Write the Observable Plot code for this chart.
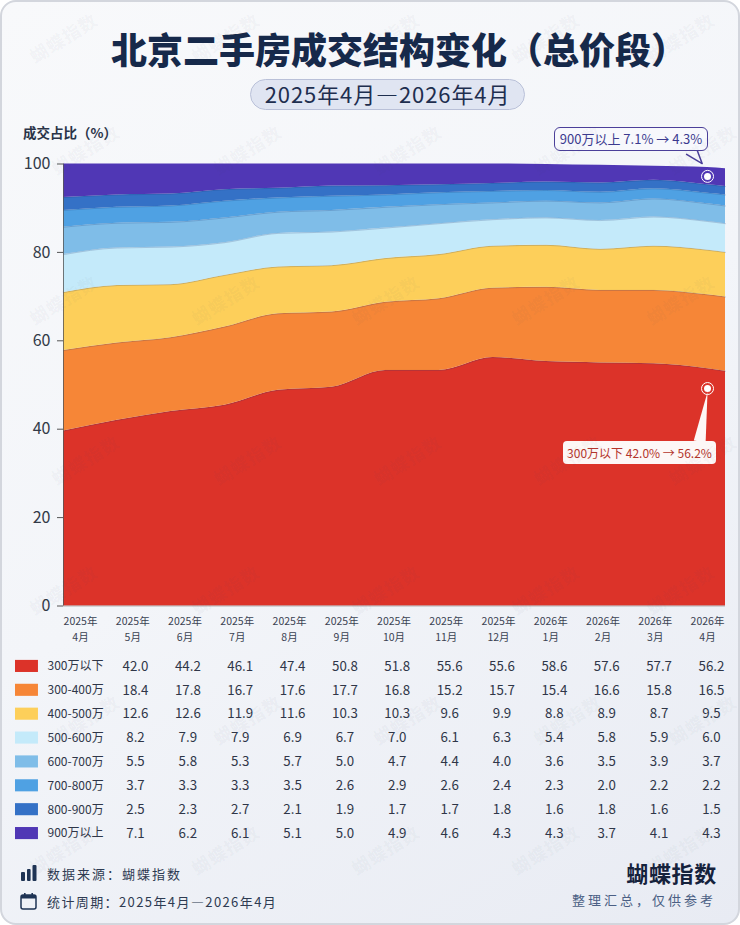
<!DOCTYPE html>
<html lang="zh">
<head>
<meta charset="utf-8">
<script src="https://cdn.jsdelivr.net/npm/d3@7"></script>
<script src="https://cdn.jsdelivr.net/npm/@observablehq/plot@0.6"></script>
<style>
html,body{margin:0;padding:0;background:#fff}
#card{position:relative;width:740px;height:925px;overflow:hidden;box-sizing:border-box;border:2px solid #d3d6dd;border-radius:16px;
 background:linear-gradient(150deg,#f8f9fb 0%,#f3f5f9 50%,#e8ebf3 100%);font-family:"Noto Sans CJK SC","Noto Sans",sans-serif;margin:0}
#inner{position:absolute;left:-2px;top:-2px;width:740px;height:925px}
.abs{position:absolute;white-space:nowrap}
#inner svg{position:absolute;left:0;background:transparent}
#title{left:111px;top:22px;font-size:36px;line-height:52px;font-weight:900;color:#16294a;letter-spacing:0}
#pill{left:250px;top:79px;width:275px;height:31px;box-sizing:border-box;border:1.5px solid #b9c0d8;border-radius:16px;background:#e0e5f2;
 font-size:22px;line-height:27px;text-align:center;color:#1e2e4f;letter-spacing:.9px}
#ylab{left:23px;top:122px;font-size:13.5px;line-height:20px;font-weight:700;color:#2a3448}
.call{box-sizing:border-box;text-align:center}
#call1{left:554px;top:127px;width:154px;height:24px;line-height:21px;font-size:13px;background:#f7f8fc;border:1.5px solid #4b3f99;border-radius:6px;color:#3b3a8f}
#call2{left:563px;top:441px;width:153px;height:23px;line-height:23px;font-size:12px;background:#fdf7f6;border-radius:4px;color:#b4352c}
.foot{font-size:13px;line-height:20px;color:#2e3b52;letter-spacing:2px}
#brand{right:23px;top:855px;font-size:22px;line-height:34px;font-weight:700;color:#15223c;letter-spacing:.7px}
#note{right:24px;top:890px;font-size:13px;line-height:20px;color:#4b5f84;letter-spacing:3px}
.wm{position:absolute;font-size:18px;font-weight:700;color:rgba(70,80,110,.05);transform:rotate(-32deg);white-space:nowrap;pointer-events:none;letter-spacing:1px}
</style>
</head>
<body>
<div id="card"><div id="inner">
  <div id="title" class="abs">北京二手房成交结构变化（总价段）</div>
  <div id="pill" class="abs">2025年4月—2026年4月</div>
  <div id="ylab" class="abs">成交占比（%）</div>
  <div id="chart"></div>
  <div id="header"></div>
  <div id="table"></div>
  <div id="call1" class="abs call">900万以上 7.1% → 4.3%</div>
  <div id="call2" class="abs call">300万以下 42.0% → 56.2%</div>
  <svg class="abs" style="left:20px;top:864px" width="17" height="18" viewBox="0 0 17 18"><rect x="1" y="8" width="4" height="9" rx="1" fill="#1e3354"/><rect x="7" y="5" width="3.6" height="12" rx="1" fill="#1e3354"/><rect x="12.5" y="1" width="4" height="16" rx="1" fill="#1e3354"/></svg>
  <div class="abs foot" style="left:47px;top:864px">数据来源：蝴蝶指数</div>
  <svg class="abs" style="left:20px;top:892px" width="17" height="18" viewBox="0 0 17 18"><rect x="1" y="3" width="15" height="14" rx="2" fill="none" stroke="#1e3354" stroke-width="1.5"/><rect x="1" y="3" width="15" height="3.5" fill="#1e3354"/><rect x="4" y="1" width="1.6" height="3" fill="#1e3354"/><rect x="11.4" y="1" width="1.6" height="3" fill="#1e3354"/></svg>
  <div class="abs foot" style="left:47px;top:892px;letter-spacing:1.4px">统计周期：2025年4月—2026年4月</div>
  <div id="brand" class="abs">蝴蝶指数</div>
  <div id="note" class="abs">整理汇总，仅供参考</div>
  <div id="marks"></div>
</div></div>
<script>
const FONT = '"Noto Sans CJK SC","Noto Sans",sans-serif';

// Categories and colours
const categories = ["300万以下","300-400万","400-500万","500-600万","600-700万","700-800万","800-900万","900万以上"];
const colors = ["#dc3329","#f68637","#fdcf5a","#c4eafa","#7fbde8","#4fa1e3","#3471c6","#5037b5"];

// Month labels of the axis row
const monthLabels = ["2025年\n4月","2025年\n5月","2025年\n6月","2025年\n7月","2025年\n8月","2025年\n9月","2025年\n10月","2025年\n11月","2025年\n12月","2026年\n1月","2026年\n2月","2026年\n3月","2026年\n4月"];

// Band boundaries as drawn in the picture (top of each band, %); knots: 13 months + the trailing edge
const knots = [0,1,2,3,4,5,6,7,8,9,10,11,12,12.335];
const top300 = [39.6,42.0,44.0,45.4,48.8,49.5,53.3,53.3,56.2,55.3,55.0,54.8,53.7,53.1];
const top400 = [57.8,59.5,60.7,63.1,66.1,66.5,68.7,69.5,71.9,72.1,71.4,71.4,70.4,69.9];
const top500 = [70.9,72.5,72.7,74.8,76.7,77.0,78.6,79.5,81.4,81.6,80.7,81.4,80.5,80.0];
const top600 = [79.5,81.0,81.2,82.2,84.3,84.6,85.5,86.5,87.4,87.8,87.2,88.0,87.0,86.5];
const top700 = [85.7,86.6,86.8,87.8,89.1,89.5,90.2,90.8,91.2,91.6,91.2,92.1,91.0,90.5];
const top800 = [89.5,90.2,90.5,91.6,92.3,92.7,93.0,93.5,93.8,94.0,93.6,94.4,93.4,93.0];
const top900 = [92.4,93.0,93.2,94.2,94.5,95.0,95.1,95.3,95.6,95.9,95.7,96.3,95.3,94.9];
const topAll = [100,100,100,100,100,100,100,100,100,99.9,99.7,99.5,99.2,98.9];

// Table values (printed figures)
const row300 = [42.0,44.2,46.1,47.4,50.8,51.8,55.6,55.6,58.6,57.6,57.7,56.2];
const row400 = [18.4,17.8,16.7,17.6,17.7,16.8,15.2,15.7,15.4,16.6,15.8,16.5];
const row500 = [12.6,12.6,11.9,11.6,10.3,10.3,9.6,9.9,8.8,8.9,8.7,9.5];
const row600 = [8.2,7.9,7.9,6.9,6.7,7.0,6.1,6.3,5.4,5.8,5.9,6.0];
const row700 = [5.5,5.8,5.3,5.7,5.0,4.7,4.4,4.0,3.6,3.5,3.9,3.7];
const row800 = [3.7,3.3,3.3,3.5,2.6,2.9,2.6,2.4,2.3,2.0,2.2,2.2];
const row850 = [2.5,2.3,2.7,2.1,1.9,1.7,1.7,1.8,1.6,1.8,1.6,1.5];
const row900 = [7.1,6.2,6.1,5.1,5.0,4.9,4.6,4.3,4.3,3.7,4.1,4.3];

// Annotation points
const markers = [{i:12,v:97.2},{i:12,v:49.2}];
const pointerTop = [{i:11.9,v:100.1}];
const pointerLow = [{i:12,v:48.4}];

const tops = [top300,top400,top500,top600,top700,top800,top900,topAll];
const bands = categories.flatMap((c,k)=>knots.map((x,j)=>({cat:c,x,y1:k?tops[k-1][j]:0,y2:tops[k][j]})));
const colorScale = {domain:categories,range:colors};

const chart = Plot.plot({
  width:740,height:470,marginLeft:63,marginRight:15,marginTop:13.5,marginBottom:14.5,
  style:{fontFamily:FONT,color:"#333a48",background:"transparent"},
  x:{domain:[0,12.335],axis:null},
  y:{domain:[0,100]},
  color:colorScale,
  marks:[
    Plot.areaY(bands,{x:"x",y1:"y1",y2:"y2",fill:"cat",z:"cat",curve:"monotone-x"}),
    Plot.lineY(bands.filter(d=>d.cat!==categories[7]),{x:"x",y:"y2",z:"cat",stroke:"#1f3a78",strokeOpacity:.22,strokeWidth:1,curve:"monotone-x"}),
    Plot.axisY({ticks:[0,20,40,60,80,100],tickSize:6,tickPadding:7,fontSize:16,label:null,stroke:"#555"}),
    Plot.ruleX([0],{stroke:"#555",strokeWidth:.8}),
    Plot.ruleY([0],{stroke:"#888",strokeWidth:.6}),
    Plot.vector(pointerTop,{x:"i",y:"v",length:17,rotate:140,r:6,anchor:"end",shape:"spike",fill:"#f7f8fc",stroke:"#4b3f99",strokeWidth:1.5}),
    Plot.vector(pointerLow,{x:"i",y:"v",length:50,rotate:9,r:6,anchor:"end",shape:"spike",fill:"#fdf7f6",stroke:"none"}),
    Plot.dot(markers,{x:"i",y:"v",r:6,stroke:"#fff",strokeWidth:1,fill:"none"}),
    Plot.dot(markers,{x:"i",y:"v",r:3.5,fill:"#fff"})
  ]
});
chart.style.top="150px";
document.getElementById("chart").append(chart);

const header = Plot.plot({
  width:740,height:36,marginLeft:80,marginRight:33,marginTop:0,marginBottom:0,
  style:{fontFamily:FONT,color:"#3a4252",background:"transparent"},
  x:{type:"point",domain:monthLabels,padding:0,round:false,axis:null},
  y:{domain:[0,1],axis:null},
  marks:[Plot.text(monthLabels,{x:d=>d,y:()=>0.5,text:d=>d,fontSize:10.5,lineHeight:1.52,fill:"#3a4252"})]
});
header.style.top="609px";
document.getElementById("header").append(header);

const rows = [row300,row400,row500,row600,row700,row800,row850,row900];
const columns = d3.range(12);
const cells = categories.flatMap((c,k)=>columns.map(j=>({cat:c,col:j,v:rows[k][j]})));
const table = Plot.plot({
  width:740,height:200,marginLeft:4.1,marginRight:2.9,marginTop:4,marginBottom:5,
  style:{fontFamily:FONT,color:"#2f3648",background:"transparent"},
  x:{type:"band",domain:["swatch","label",...columns],padding:0,round:false,axis:null},
  y:{type:"band",domain:categories,padding:0,round:false,axis:null},
  color:colorScale,
  marks:[
    Plot.cell(categories,{x:()=>"swatch",y:d=>d,fill:d=>d,insetLeft:10.9,insetRight:18.5,insetTop:5.9,insetBottom:5.9}),
    Plot.text(categories,{x:()=>"label",y:d=>d,text:d=>d,textAnchor:"start",dx:-35.6,fontSize:12,fill:"#2f3648"}),
    Plot.text(cells,{x:"col",y:"cat",text:d=>d.v.toFixed(1),fontSize:13.3,fill:"#2f3648"})
  ]
});
table.style.top="650px";
document.getElementById("table").append(table);

// Watermark
const wmX = [63,225,385,545,680];
const wmY = [38,150,300,460,590,720,850];
const mk = document.getElementById("marks");
wmY.forEach((y,r)=>wmX.forEach(x=>{
  const d=document.createElement("div");
  d.className="wm";d.textContent="蝴蝶指数";
  d.style.left=(x-38+(r%2)*22)+"px";d.style.top=(y-14)+"px";
  mk.append(d);
}));
</script>
</body>
</html>
